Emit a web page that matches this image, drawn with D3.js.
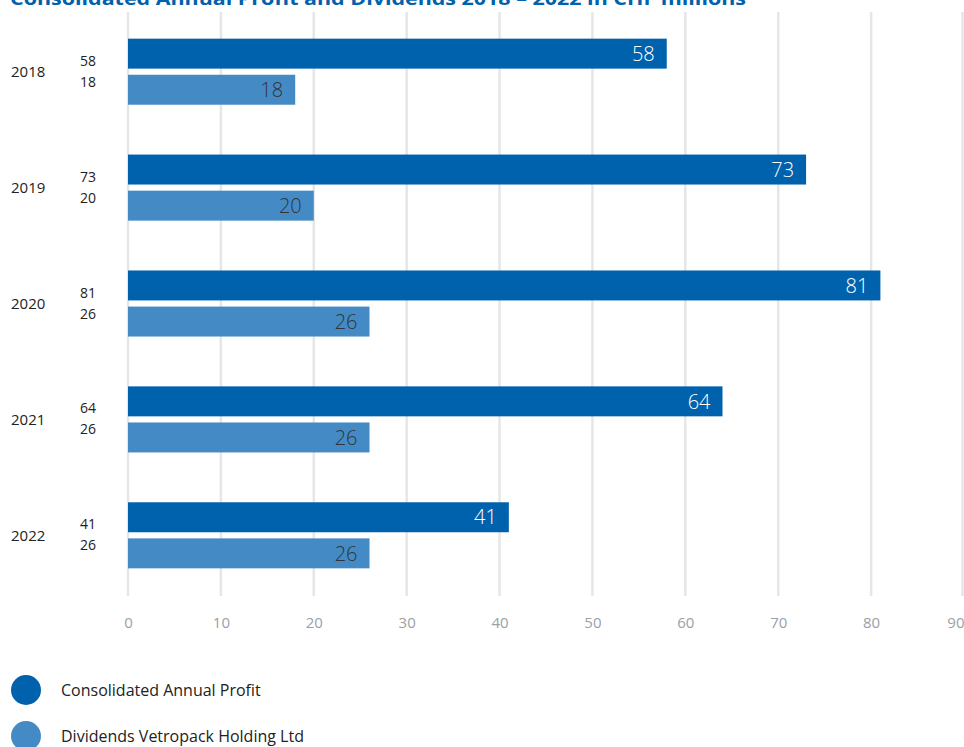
<!DOCTYPE html>
<html>
<head>
<meta charset="utf-8">
<script src="https://cdn.jsdelivr.net/npm/d3@7"></script>
<style>
  body { margin: 0; background: #fff; }
  svg { display: block; font-family: "Open Sans", Lato, sans-serif; }
</style>
</head>
<body>
<div id="container"></div>
<script>
const WIDTH = 964;
const HEIGHT = 747;

const years = ["2018", "2019", "2020", "2021", "2022"];
const profit = [58, 73, 81, 64, 41];
const dividends = [18, 20, 26, 26, 26];
const seriesNames = ["Consolidated Annual Profit", "Dividends Vetropack Holding Ltd"];
const seriesColors = ["#0061ac", "#448bc6"];
const xTicks = [0, 10, 20, 30, 40, 50, 60, 70, 80, 90];

var translate = function (x, y) {
    return "translate(" + x + "," + y + ")";
};

var createChart = function () {
    var svg = d3.select("#container")
        .append("svg")
        .attr("width", WIDTH)
        .attr("height", HEIGHT);

    var xScale = d3.scaleLinear().domain([0, 90]).range([128, 964]);
    var yScale = d3.scaleBand().domain(years).range([12, 595])
        .paddingInner(0.43).paddingOuter(0.23);
    var subScale = d3.scaleBand().domain([0, 1]).range([0, yScale.bandwidth()])
        .paddingInner(0.17);

    // grid lines
    svg.append("g").selectAll("line").data(xTicks)
        .enter().append("line")
        .attr("x1", function (d) { return Math.min(xScale(d), WIDTH - 1.5); })
        .attr("x2", function (d) { return Math.min(xScale(d), WIDTH - 1.5); })
        .attr("y1", 12)
        .attr("y2", 596)
        .attr("stroke", "#e6e6e6")
        .attr("stroke-width", 2.5);

    // x axis
    var xAxis = d3.axisBottom(xScale).tickValues(xTicks).tickSize(0).tickPadding(0);
    var ax = svg.append("g")
        .attr("transform", translate(0, 617))
        .call(xAxis);
    ax.select(".domain").remove();
    ax.selectAll("text")
        .attr("font-size", 15)
        .attr("font-family", "\"Open Sans\", sans-serif")
        .attr("fill", "#9aa0a6")
        .attr("text-anchor", function (d) { return d === 90 ? "end" : "middle"; });

    var rows = years.map(function (y, i) {
        return { year: y, values: [profit[i], dividends[i]] };
    });

    var groups = svg.append("g").selectAll("g").data(rows)
        .enter().append("g")
        .attr("transform", function (d) { return translate(0, yScale(d.year)); });

    groups.selectAll("rect").data(function (d) { return d.values; })
        .enter().append("rect")
        .attr("x", xScale(0))
        .attr("y", function (d, i) { return subScale(i); })
        .attr("width", function (d) { return xScale(d) - xScale(0); })
        .attr("height", subScale.bandwidth())
        .attr("fill", function (d, i) { return seriesColors[i]; });

    groups.selectAll("text.inbar").data(function (d) { return d.values; })
        .enter().append("text")
        .attr("class", "inbar")
        .attr("x", function (d) { return xScale(d) - 12; })
        .attr("y", function (d, i) { return subScale(i) + subScale.bandwidth() / 2; })
        .attr("dy", "0.36em")
        .attr("text-anchor", "end")
        .attr("font-size", 20)
        .attr("font-weight", 300)
        .attr("fill", function (d, i) { return i === 0 ? "#ffffff" : "#333333"; })
        .text(function (d) { return d; });

    // year labels
    groups.append("text")
        .attr("x", 11)
        .attr("y", yScale.bandwidth() / 2)
        .attr("dy", "0.36em")
        .attr("font-size", 15)
        .attr("fill", "#222")
        .text(function (d) { return d.year; });

    // side value labels
    groups.selectAll("text.side").data(function (d) { return d.values; })
        .enter().append("text")
        .attr("class", "side")
        .attr("x", 80)
        .attr("y", function (d, i) { return yScale.bandwidth() / 2 + (i === 0 ? -11 : 10); })
        .attr("dy", "0.36em")
        .attr("font-size", 14)
        .attr("fill", "#222")
        .text(function (d) { return d; });

    // title
    svg.append("text")
        .attr("x", 10)
        .attr("y", 5)
        .attr("font-size", 18)
        .attr("font-weight", "bold")
        .attr("fill", "#0061ac")
        .attr("textLength", 736)
        .attr("lengthAdjust", "spacingAndGlyphs")
        .text("Consolidated Annual Profit and Dividends 2018 \u2013 2022 in CHF millions");

    // legend
    var legend = svg.append("g").selectAll("g").data(seriesNames)
        .enter().append("g")
        .attr("transform", function (d, i) { return translate(0, 690 + i * 46); });
    legend.append("circle")
        .attr("cx", 26)
        .attr("r", 15)
        .attr("fill", function (d, i) { return seriesColors[i]; });
    legend.append("text")
        .attr("x", 61)
        .attr("dy", "0.36em")
        .attr("font-size", 16)
        .attr("fill", "#222")
        .text(function (d) { return d; });
};

window.onload = createChart;
</script>
</body>
</html>
